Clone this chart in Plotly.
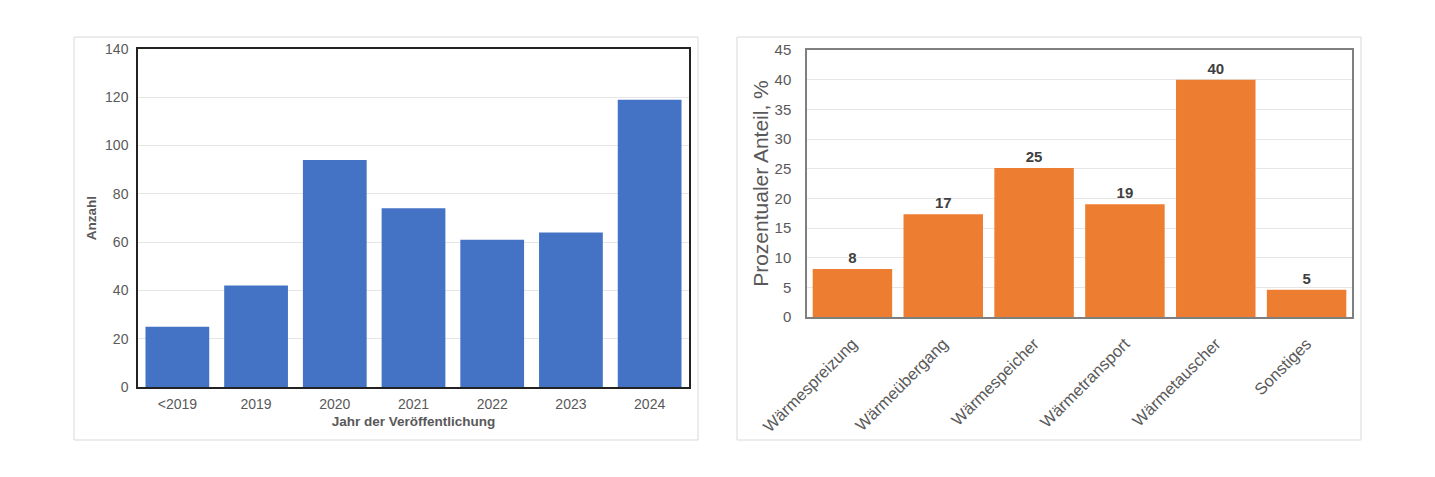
import plotly.graph_objects as go

# left chart: publications per year
jahre = ["<2019", "2019", "2020", "2021", "2022", "2023", "2024"]
anzahl = [25, 42, 94, 74, 61, 64, 119]

# right chart: share per topic
themen = ["Wärmespreizung", "Wärmeübergang", "Wärmespeicher", "Wärmetransport", "Wärmetauscher", "Sonstiges"]
anteil = [8.1, 17.3, 25.1, 19.0, 40.0, 4.6]
anteil_text = ["8", "17", "25", "19", "40", "5"]

# page has 8px body margin, so the figure is a bit smaller than the window
OFF = 8
W, H = 1435 - OFF, 477 - OFF
def px_x(v):
    return (v - OFF) / W
def px_y(v):
    return 1 - (v - OFF) / H

FONT = "Liberation Sans, Arial"
tick_font = dict(family=FONT, size=14, color="#595959")

fig = go.Figure()

fig.add_trace(go.Bar(x=jahre, y=anzahl, marker_color="#4472C4", marker_line_width=0, width=0.81,
                     xaxis="x", yaxis="y", hoverinfo="x+y"))
fig.add_trace(go.Bar(x=themen, y=anteil, marker_color="#ED7D31", marker_line_width=0, width=0.875,
                     text=anteil_text, textposition="outside", cliponaxis=False,
                     textfont=dict(family=FONT, size=15, color="#404040", weight="bold"),
                     xaxis="x2", yaxis="y2", hoverinfo="x+y"))

fig.update_layout(
    width=W, height=H,
    margin=dict(l=0, r=0, t=0, b=0),
    paper_bgcolor="white", plot_bgcolor="white",
    showlegend=False,
    xaxis=dict(domain=[px_x(138), px_x(689)], anchor="y", tickfont=tick_font, automargin=False,
               showline=True, linecolor="#222222", linewidth=1.5, mirror=True, ticks="",
               ticklabelstandoff=3,
               title=dict(text="<b>Jahr der Veröffentlichung</b>", standoff=6,
                          font=dict(family=FONT, size=13.5, color="#595959"))),
    yaxis=dict(domain=[px_y(387), px_y(49)], anchor="x", range=[0, 140], dtick=20, automargin=False,
               tickfont=tick_font, gridcolor="#E6E6E6", zeroline=False,
               showline=True, linecolor="#222222", linewidth=1.5, mirror=True, ticks="",
               ticklabelstandoff=5,
               title=dict(text="<b>Anzahl</b>", standoff=5,
                          font=dict(family=FONT, size=13.5, color="#595959"))),
    xaxis2=dict(domain=[px_x(807), px_x(1352)], anchor="y2", tickangle=-45, automargin=False,
                tickfont=dict(family=FONT, size=16.5, color="#595959"),
                showline=True, linecolor="#7F7F7F", linewidth=1.5, mirror=True, ticks="",
                ticklabelstandoff=9),
    yaxis2=dict(domain=[px_y(317), px_y(50)], anchor="x2", range=[0, 45], dtick=5, automargin=False,
                tickfont=dict(family=FONT, size=15, color="#595959"),
                gridcolor="#E6E6E6", zeroline=False,
                showline=True, linecolor="#7F7F7F", linewidth=1.5, mirror=True, ticks="",
                ticklabelstandoff=11),
)

fig.update_layout(yaxis2_title=dict(text="Prozentualer Anteil, %", standoff=0,
                                    font=dict(family=FONT, size=21, color="#595959")))

# light grey frames around both panels
for x0, x1 in [(74, 698), (737, 1361)]:
    fig.add_shape(type="rect", xref="paper", yref="paper",
                  x0=px_x(x0), x1=px_x(x1), y0=px_y(440), y1=px_y(37),
                  line=dict(color="#D9D9D9", width=1), layer="below")

fig.write_html("out.html")
